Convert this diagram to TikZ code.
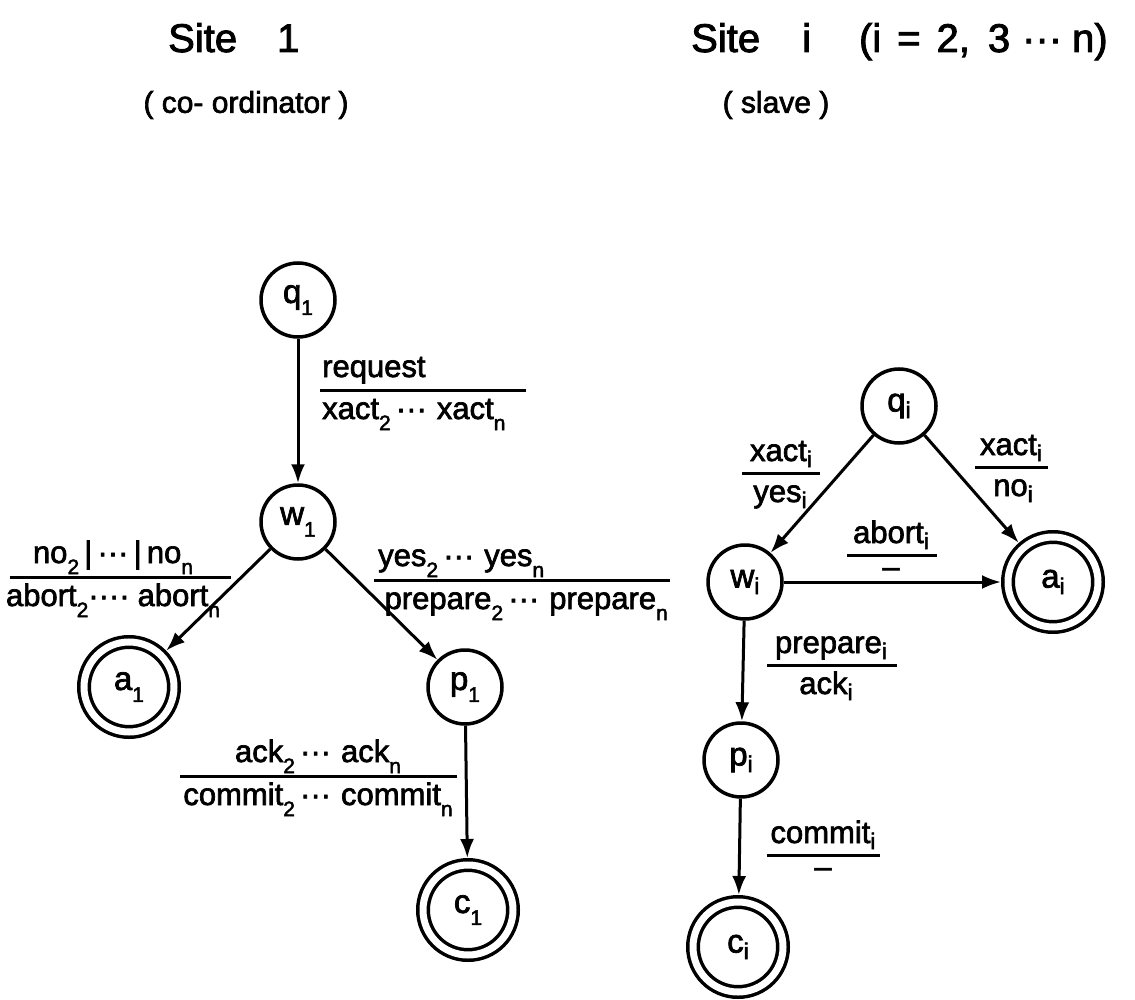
\documentclass[tikz,border=0pt]{standalone}
\usepackage{fontspec}
\setmainfont{Liberation Sans}[FakeBold=2.2]
\usetikzlibrary{arrows.meta}
% type sizes (the picture unit is 1pt)
\newcommand\labfont{\fontsize{31}{36}\selectfont}
\newcommand\namefont{\fontsize{33}{38}\selectfont}
\newcommand\headfont{\fontsize{40}{46}\selectfont}
\newcommand\subheadfont{\fontsize{30}{34}\selectfont}
% lowered indices: digits and n sit below the line, i a little lower
\newcommand\dn[1]{\raisebox{-0.36em}{\fontsize{21}{21}\selectfont #1}}
\newcommand\di[1]{\raisebox{-0.2em}{\fontsize{23}{23}\selectfont #1}}
\begin{document}
\begin{tikzpicture}[x=1pt,y=-1pt,
  state/.style={circle,draw,line width=3.5pt,minimum size=74pt,inner sep=0pt,font=\namefont},
  final/.style={circle,draw,line width=3.5pt,double,double distance=7pt,
                minimum size=90pt,inner sep=0pt,outer sep=7pt,font=\namefont},
  trans/.style={line width=3pt,-{Latex[length=19pt,width=14pt]}},
  bar/.style={line width=3pt},
  lab/.style={inner sep=0pt,font=\labfont,anchor=base},
]
\useasboundingbox (0,0) rectangle (1135,1000);

% headings
\node[inner sep=0pt,anchor=base west,font=\headfont] (h1) at (168,52) {Site\hspace{40pt}1};
\node[inner sep=0pt,anchor=base west,font=\headfont] (h2) at (691,52)
  {Site\hspace{42pt}i\hspace{48pt}(i\hspace{16pt}=\hspace{16pt}2,\hspace{18pt}3\hspace{12pt}···\hspace{10pt}n)};
\node[inner sep=0pt,font=\subheadfont] (s1) at (246,105) {( co- ordinator )};
\node[inner sep=0pt,font=\subheadfont] (s2) at (776,105) {( slave )};

% co-ordinator automaton
\node[state] (q1) at (298,300) {q\dn{1}};
\node[state] (w1) at (298,522) {w\dn{1}};
\node[final] (a1) at (129,687) {a\dn{1}};
\node[state] (p1) at (465,687) {p\dn{1}};
\node[final] (c1) at (468,910) {c\dn{1}};

\draw[trans] (q1) -- (w1);
\draw[trans] (w1) -- (a1);
\draw[trans] (w1) -- (p1);
\draw[trans] (p1) -- (c1);

\node[lab,anchor=base west] (l1t) at (322,377) {request};
\draw[bar] (320,390) -- (526,390);
\node[lab,anchor=base west] (l1b) at (322,419) {xact\dn{2}\,···\hspace{10pt}xact\dn{n}};

\node[lab] (l2t) at (113,563) {no\dn{2}\,|\,···\,|\,no\dn{n}};
\draw[bar] (10,577) -- (231,577);
\node[lab] (l2b) at (113,606) {abort\dn{2}····\hspace{8pt}abort\dn{n}};

\node[lab,anchor=base west] (l3t) at (378,566) {yes\dn{2}\,···\hspace{10pt}yes\dn{n}};
\draw[bar] (374,580) -- (670,580);
\node[lab,anchor=base east] (l3b) at (668,609) {prepare\dn{2}\,···\hspace{10pt}prepare\dn{n}};

\node[lab] (l4t) at (318,762) {ack\dn{2}\,···\hspace{10pt}ack\dn{n}};
\draw[bar] (180,776) -- (457,776);
\node[lab] (l4b) at (318,805) {commit\dn{2}\,···\hspace{10pt}commit\dn{n}};

% slave automaton
\node[state] (qi) at (899,406) {q\di{i}};
\node[state] (wi) at (745,582) {w\di{i}};
\node[final] (ai) at (1053,582) {a\di{i}};
\node[state] (pi) at (741,760) {p\di{i}};
\node[final] (ci) at (738,947) {c\di{i}};

\draw[trans] (qi) -- (wi);
\draw[trans] (qi) -- (ai);
\draw[trans] (wi) -- (ai);
\draw[trans] (wi) -- (pi);
\draw[trans] (pi) -- (ci);

\node[lab] (l5t) at (781,461) {xact\di{i}};
\draw[bar] (742,473) -- (820,473);
\node[lab] (l5b) at (780,502) {yes\di{i}};

\node[lab] (l6t) at (1011,455) {xact\di{i}};
\draw[bar] (975,467) -- (1048,467);
\node[lab] (l6b) at (1013,496) {no\di{i}};

\node[lab] (l7t) at (891,543) {abort\di{i}};
\draw[bar] (847,555) -- (937,555);
\node[lab] (l7b) at (891,577) {–};

\node[lab] (l8t) at (831,653) {prepare\di{i}};
\draw[bar] (767,665) -- (897,665);
\node[lab] (l8b) at (826,694) {ack\di{i}};

\node[lab] (l9t) at (823,843) {commit\di{i}};
\draw[bar] (767,855) -- (880,855);
\node[lab] (l9b) at (823,877) {–};
\end{tikzpicture}
\end{document}
